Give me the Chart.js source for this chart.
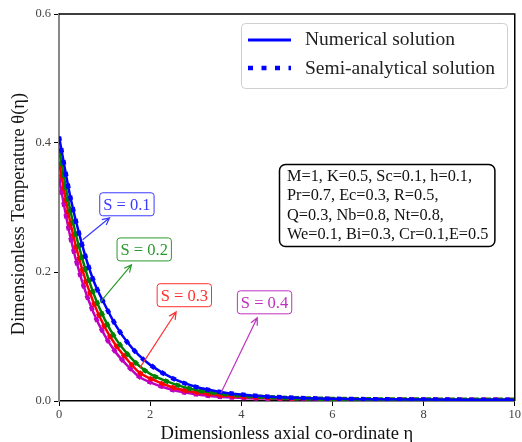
<!DOCTYPE html>
<html>
<head>
<meta charset="utf-8">
<script src="https://cdn.jsdelivr.net/npm/chart.js@4.4.0/dist/chart.umd.min.js"></script>
<style>
  html, body { margin: 0; padding: 0; background: #fff; }
  #wrap { width: 522px; height: 442px; position: relative; }
</style>
</head>
<body>
<div id="wrap"><canvas id="chart" width="522" height="442"></canvas></div>
<script>
// values
const eta = [0, 0.25, 0.5, 0.75, 1, 1.25, 1.5, 1.75, 2, 2.5, 3, 3.5, 4, 4.5, 5, 6, 7, 8, 9, 10];
const thetaS01 = [0.410, 0.316, 0.244, 0.188, 0.150, 0.117, 0.091, 0.071, 0.056, 0.035, 0.022, 0.0145, 0.0100, 0.0072, 0.0054, 0.0035, 0.0027, 0.0023, 0.0021, 0.0020];
const thetaS02 = [0.390, 0.295, 0.223, 0.168, 0.127, 0.096, 0.073, 0.055, 0.042, 0.027, 0.017, 0.0120, 0.0085, 0.0062, 0.0047, 0.0032, 0.0025, 0.0022, 0.0020, 0.0020];
const thetaS03 = [0.370, 0.276, 0.206, 0.154, 0.115, 0.086, 0.064, 0.045, 0.035, 0.021, 0.0135, 0.0093, 0.0068, 0.0052, 0.0041, 0.0030, 0.0024, 0.0021, 0.0020, 0.0020];
const thetaS04 = [0.345, 0.254, 0.187, 0.138, 0.102, 0.075, 0.055, 0.038, 0.029, 0.017, 0.0105, 0.0067, 0.0048, 0.0037, 0.0030, 0.0023, 0.0020, 0.0018, 0.0017, 0.0017];
const sLabels = ["S = 0.1", "S = 0.2", "S = 0.3", "S = 0.4"];
const legendNames = ["Numerical solution", "Semi-analytical solution"];
const xTicks = [0, 2, 4, 6, 8, 10];
const yTicks = [0, 0.2, 0.4, 0.6];
const xTitle = "Dimensionless axial co-ordinate η";
const yTitle = "Dimensionless Temperature θ(η)";
const paramLines = [
  "M=1, K=0.5, Sc=0.1, h=0.1,",
  "Pr=0.7, Ec=0.3, R=0.5,",
  "Q=0.3, Nb=0.8, Nt=0.8,",
  "We=0.1, Bi=0.3, Cr=0.1,E=0.5"
];

const series = [thetaS01, thetaS02, thetaS03, thetaS04];
const colors = ["#0000ff", "#008000", "#ff0000", "#bf00bf"];
const labelColors = ["#3a3aff", "#2a9a2a", "#ff3030", "#c030c0"];
const serif = "'Liberation Serif', 'DejaVu Serif', serif";
const dotDash = [4.5, 7.5];

// where the S labels and their arrows sit, in data units
const sCallouts = [
  { at: [1.49, 0.305], tail: [0.52, 0.250], tip: [1.11, 0.284] },
  { at: [1.87, 0.235], tail: [0.90, 0.153], tip: [1.59, 0.211] },
  { at: [2.75, 0.164], tail: [1.77, 0.051], tip: [2.57, 0.138] },
  { at: [4.51, 0.153], tail: [3.55, 0.012], tip: [4.35, 0.129] }
];

const datasets = [];
series.forEach((vals, i) => {
  const pts = eta.map((x, j) => ({ x: x, y: vals[j] }));
  datasets.push({
    label: legendNames[0] + " " + sLabels[i],
    data: pts,
    borderColor: colors[i],
    borderWidth: 2.5,
    pointRadius: 0,
    cubicInterpolationMode: "monotone",
    fill: false
  });
  datasets.push({
    label: legendNames[1] + " " + sLabels[i],
    data: pts,
    borderColor: colors[i],
    borderWidth: 4.5,
    borderDash: dotDash,
    borderCapStyle: "butt",
    pointRadius: 0,
    cubicInterpolationMode: "monotone",
    fill: false
  });
});

function roundRect(ctx, x, y, w, h, r) {
  ctx.beginPath();
  ctx.moveTo(x + r, y);
  ctx.lineTo(x + w - r, y);
  ctx.arcTo(x + w, y, x + w, y + r, r);
  ctx.lineTo(x + w, y + h - r);
  ctx.arcTo(x + w, y + h, x + w - r, y + h, r);
  ctx.lineTo(x + r, y + h);
  ctx.arcTo(x, y + h, x, y + h - r, r);
  ctx.lineTo(x, y + r);
  ctx.arcTo(x, y, x + r, y, r);
  ctx.closePath();
}

function arrow(ctx, x1, y1, x2, y2, color) {
  const a = Math.atan2(y2 - y1, x2 - x1);
  const L = 8;
  ctx.save();
  ctx.strokeStyle = color;
  ctx.lineWidth = 1.2;
  ctx.beginPath();
  ctx.moveTo(x1, y1);
  ctx.lineTo(x2, y2);
  ctx.moveTo(x2 - L * Math.cos(a - 0.45), y2 - L * Math.sin(a - 0.45));
  ctx.lineTo(x2, y2);
  ctx.lineTo(x2 - L * Math.cos(a + 0.45), y2 - L * Math.sin(a + 0.45));
  ctx.stroke();
  ctx.restore();
}

const decor = {
  id: "decor",
  afterDraw(chart) {
    const ctx = chart.ctx;
    const a = chart.chartArea;
    const xs = chart.scales.x, ys = chart.scales.y;

    // top and right spines
    ctx.save();
    ctx.strokeStyle = "#000";
    ctx.lineWidth = 1.5;
    ctx.beginPath();
    ctx.moveTo(a.left, a.top);
    ctx.lineTo(a.right, a.top);
    ctx.lineTo(a.right, a.bottom);
    ctx.stroke();
    ctx.restore();

    // y axis title, drawn by hand so it sits a little below centre like the original
    ctx.save();
    ctx.translate(19, 214);
    ctx.rotate(-Math.PI / 2);
    ctx.font = "18.5px " + serif;
    ctx.fillStyle = "#111";
    ctx.textAlign = "center";
    ctx.textBaseline = "middle";
    ctx.fillText(yTitle, 0, 0);
    ctx.restore();

    // S callouts
    sCallouts.forEach((c, i) => {
      arrow(ctx, xs.getPixelForValue(c.tail[0]), ys.getPixelForValue(c.tail[1]),
        xs.getPixelForValue(c.tip[0]), ys.getPixelForValue(c.tip[1]), labelColors[i]);
      ctx.save();
      ctx.font = "16.5px " + serif;
      const w = ctx.measureText(sLabels[i]).width + 7;
      const h = 23;
      const cx = xs.getPixelForValue(c.at[0]), cy = ys.getPixelForValue(c.at[1]);
      roundRect(ctx, cx - w / 2, cy - h / 2, w, h, 3);
      ctx.fillStyle = "#fff";
      ctx.fill();
      ctx.strokeStyle = labelColors[i];
      ctx.lineWidth = 1;
      ctx.stroke();
      ctx.fillStyle = labelColors[i];
      ctx.textAlign = "center";
      ctx.textBaseline = "middle";
      ctx.fillText(sLabels[i], cx, cy + 1);
      ctx.restore();
    });

    // parameter box
    ctx.save();
    ctx.font = "16.3px " + serif;
    const pw = Math.max(...paramLines.map(t => ctx.measureText(t).width));
    roundRect(ctx, 279.5, 164.5, pw + 14, 82, 6);
    ctx.fillStyle = "#fff";
    ctx.fill();
    ctx.strokeStyle = "#000";
    ctx.lineWidth = 1.5;
    ctx.stroke();
    ctx.fillStyle = "#111";
    ctx.textBaseline = "alphabetic";
    paramLines.forEach((t, i) => ctx.fillText(t, 287, 181 + i * 19.3));
    ctx.restore();

    // legend
    ctx.save();
    roundRect(ctx, 241.5, 23.5, 266, 65, 4);
    ctx.fillStyle = "rgba(255,255,255,0.85)";
    ctx.fill();
    ctx.strokeStyle = "#d0d0d0";
    ctx.lineWidth = 1;
    ctx.stroke();
    ctx.strokeStyle = colors[0];
    ctx.lineWidth = 3;
    ctx.beginPath();
    ctx.moveTo(248, 40);
    ctx.lineTo(291, 40);
    ctx.stroke();
    ctx.lineWidth = 4.5;
    ctx.setLineDash([5, 8.5]);
    ctx.beginPath();
    ctx.moveTo(248, 68);
    ctx.lineTo(291, 68);
    ctx.stroke();
    ctx.setLineDash([]);
    ctx.fillStyle = "#222";
    ctx.font = "19.5px " + serif;
    ctx.textBaseline = "middle";
    ctx.fillText(legendNames[0], 305, 40);
    ctx.fillText(legendNames[1], 305, 69);
    ctx.restore();
  }
};

new Chart(document.getElementById("chart"), {
  type: "line",
  data: { datasets: datasets },
  options: {
    responsive: false,
    animation: false,
    events: [],
    layout: { padding: { top: 14, right: 5, left: 0, bottom: 0 } },
    plugins: { legend: { display: false }, tooltip: { enabled: false } },
    scales: {
      x: {
        type: "linear",
        min: 0,
        max: 10,
        afterFit: s => { s.height = 41; },
        afterBuildTicks: s => { s.ticks = xTicks.map(v => ({ value: v })); },
        ticks: { font: { family: serif, size: 12.5 }, color: "#444", padding: 1, maxRotation: 0,
          callback: v => String(v) },
        grid: { drawOnChartArea: false, tickLength: 5, tickColor: "#000", tickWidth: 1 },
        border: { color: "#000", width: 1.5 },
        title: { display: true, text: xTitle,
          font: { family: serif, size: 18.5, lineHeight: 1 }, color: "#111", padding: { top: 0, bottom: -1 } }
      },
      y: {
        type: "linear",
        min: 0,
        max: 0.6,
        afterFit: s => { s.width = 59; },
        afterBuildTicks: s => { s.ticks = yTicks.map(v => ({ value: v })); },
        ticks: { font: { family: serif, size: 12.5 }, color: "#444", padding: 3,
          callback: v => v.toFixed(1) },
        grid: { drawOnChartArea: false, tickLength: 5, tickColor: "#000", tickWidth: 1 },
        border: { color: "#888", width: 2 },
        title: { display: false }
      }
    }
  },
  plugins: [decor]
});
</script>
</body>
</html>
